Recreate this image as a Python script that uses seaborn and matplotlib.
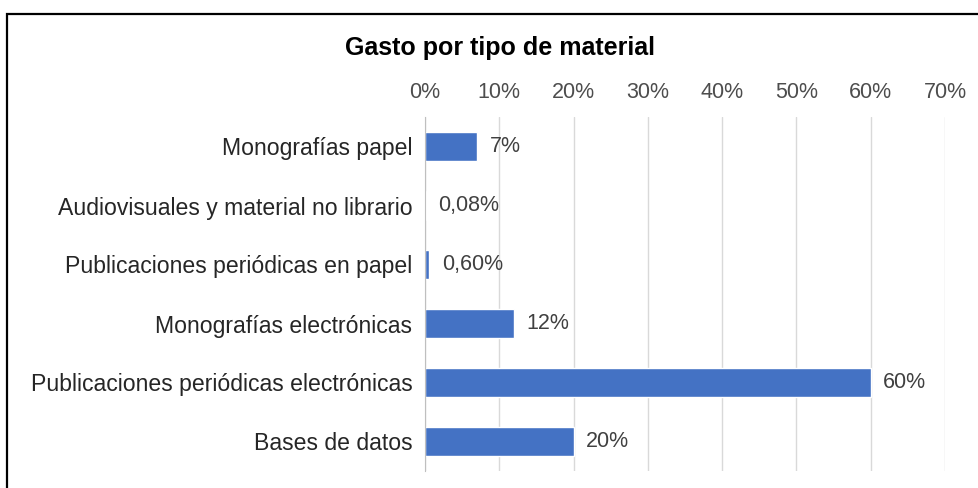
import numpy as np
import pandas as pd
import matplotlib.pyplot as plt
import matplotlib.patches as patches
import seaborn as sns

categorias = ["Monografías papel",
              "Audiovisuales y material no librario",
              "Publicaciones periódicas en papel",
              "Monografías electrónicas",
              "Publicaciones periódicas electrónicas",
              "Bases de datos"]
gasto = [0.07, 0.0008, 0.006, 0.12, 0.60, 0.20]
etiquetas = ["7%", "0,08%", "0,60%", "12%", "60%", "20%"]
ticks_x = [0, 0.1, 0.2, 0.3, 0.4, 0.5, 0.6, 0.7]

df = pd.DataFrame({"material": categorias, "gasto": gasto})

sns.set_style("white")
plt.rcParams["font.family"] = ["Liberation Sans", "DejaVu Sans"]

fig = plt.figure(figsize=(9.79, 4.88), dpi=100)
ax = fig.add_axes([425/979, 1-471/488, 520/979, 354/488])

sns.barplot(data=df, x="gasto", y="material", orient="h", color="#4472C4",
            width=0.475, saturation=1, ax=ax)

ax.set_xlim(0, 0.7)
ax.set_xticks(ticks_x)
ax.set_xticklabels([f"{int(round(t*100))}%" for t in ticks_x])
ax.xaxis.tick_top()
ax.tick_params(axis="x", length=0, labelsize=15.5, colors="#4D4D4D", pad=10)
ax.tick_params(axis="y", which="major", length=0, labelsize=16.6,
               labelcolor="#262626", pad=9)
ax.set_yticks(np.arange(-0.5, len(categorias)), minor=True)
ax.tick_params(axis="y", which="minor", length=6, color="#BFBFBF", width=1)
ax.grid(axis="x", color="#D9D9D9", lw=1)
ax.set_axisbelow(True)
for s in ["top", "right", "bottom"]:
    ax.spines[s].set_visible(False)
ax.spines["left"].set_color("#BFBFBF")
ax.set_xlabel("")
ax.set_ylabel("")

for i, (v, t) in enumerate(zip(gasto, etiquetas)):
    ax.annotate(t, (v, i), xytext=(9, 0), textcoords="offset points",
                va="center", ha="left", fontsize=15.5, color="#404040")

fig.text(500/979, 1-48/488, "Gasto por tipo de material", ha="center", va="center",
         fontsize=18, fontweight="bold", color="#000000")

fig.patches.append(patches.Rectangle((7/979, -0.1), 1.1, 1-14/488+0.1,
                                     transform=fig.transFigure, fill=False,
                                     lw=1.6, ec="black", clip_on=False))

fig.savefig("out.png", dpi=100)
